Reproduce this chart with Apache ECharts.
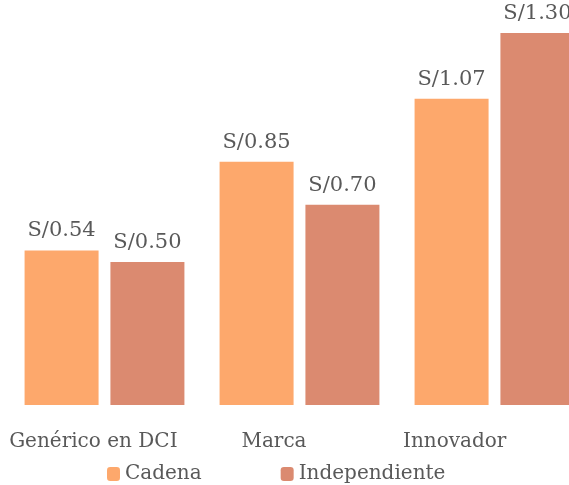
<!DOCTYPE html>
<html>
<head>
<meta charset="utf-8">
<script src="https://cdn.jsdelivr.net/npm/echarts@6/dist/echarts.min.js"></script>
<style>
	html, body { margin: 0; padding: 0; background: #fff; }
	#precioChart { width: 569px; height: 485px; }
</style>
</head>
<body>
<div id="precioChart"></div>
<script>
	// categorias y valores (S/ por unidad)
	var categorias = ['Genérico en DCI', 'Marca', 'Innovador'];
	var series = ['Cadena', 'Independiente'];
	var cadena = [0.54, 0.85, 1.07];
	var independiente = [0.50, 0.70, 1.30];

	var colores = ['#FDA86C', '#DB8A70'];
	var fuente = 'DejaVu Serif';
	var gris = '#595959';

	var myChart = echarts.init(document.getElementById('precioChart'));

	function barSerie(nombre, datos, idx) {
		return {
			name: nombre,
			type: 'bar',
			xAxisIndex: 0,
			yAxisIndex: 0,
			data: datos,
			barWidth: 74,
			barGap: '16%',
			itemStyle: { color: colores[idx] },
			label: {
				show: true,
				position: 'top',
				distance: 9,
				color: gris,
				fontFamily: fuente,
				fontSize: 21,
				formatter: function(p) { return 'S/' + p.value.toFixed(2); }
			}
		};
	}

	var option = {
		animation: false,
		color: colores,
		legend: {
			data: series,
			left: 107,
			top: 464,
			padding: 0,
			itemWidth: 13,
			itemHeight: 14,
			itemGap: 79,
			textStyle: { color: gris, fontFamily: fuente, fontSize: 20 }
		},
		grid: [
			// el grafico se sale por la derecha
			{ left: 7, width: 585, top: 33, bottom: 80, outerBoundsMode: 'none' },
			// solo para las etiquetas del eje
			{ left: 3, right: 24, top: 33, bottom: 80, outerBoundsMode: 'none' }
		],
		xAxis: [{
			type: 'category',
			gridIndex: 0,
			data: categorias,
			axisLine: { show: false },
			axisTick: { show: false },
			axisLabel: { show: false }
		}, {
			type: 'category',
			gridIndex: 1,
			data: categorias,
			axisLine: { show: false },
			axisTick: { show: false },
			axisLabel: {
				interval: 0,
				margin: 27,
				color: gris,
				fontFamily: fuente,
				fontSize: 20
			}
		}],
		yAxis: [{
			type: 'value',
			gridIndex: 0,
			min: 0,
			max: 1.3,
			show: false
		}, {
			type: 'value',
			gridIndex: 1,
			show: false
		}],
		series: [
			barSerie(series[0], cadena, 0),
			barSerie(series[1], independiente, 1)
		]
	};

	myChart.setOption(option);
</script>
</body>
</html>
